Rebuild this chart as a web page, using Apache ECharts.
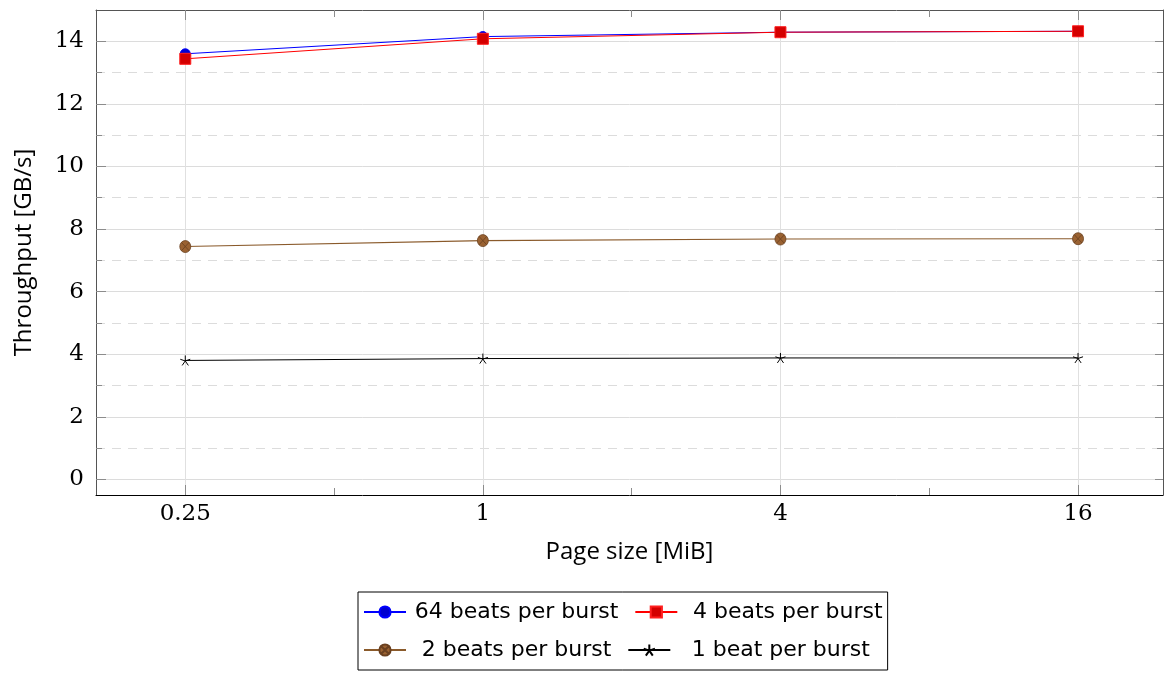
<!DOCTYPE html>
<html><head><meta charset="utf-8">
<script src="https://cdn.jsdelivr.net/npm/echarts@6/dist/echarts.min.js"></script>
<style>html,body{margin:0;padding:0;background:#fff}#c{width:1165px;height:673px}</style>
</head><body><div id="c"></div>
<script>
// ---- data ----
const pageSizes = [0.25, 1, 4, 16];
const xTickLabels = ['0.25', '1', '4', '16'];
const xMinorTicks = [0.5, 2, 8];
const yMajorTicks = [0, 2, 4, 6, 8, 10, 12, 14];
const yMinorTicks = [1, 3, 5, 7, 9, 11, 13];
const seriesNames = ['64 beats per burst', '4 beats per burst', '2 beats per burst', '1 beat per burst'];
const beats64 = [13.60, 14.15, 14.29, 14.32];
const beats4 = [13.44, 14.08, 14.29, 14.32];
const beats2 = [7.44, 7.63, 7.68, 7.69];
const beats1 = [3.80, 3.86, 3.88, 3.88];
const xAxisName = 'Page size [MiB]';
const yAxisName = 'Throughput [GB/s]';

// ---- layout/style ----
const X_MIN = 0.25 * Math.pow(4, -0.3);
const X_MAX = 16 * Math.pow(4, 0.2855);
const TICK_FONT = 'DejaVu Serif';
const TICK_COLOR = '#8c8c8c';

function xAxisBase(position) {
  return { type: 'log', logBase: 4, min: X_MIN, max: X_MAX, position: position, gridIndex: 0 };
}
function yAxisBase(position) {
  return { type: 'value', min: -0.5, max: 15, position: position, gridIndex: 0 };
}
function pair(xs, ys) { return xs.map((x, i) => [x, ys[i]]); }

const starPath = 'path://M0,-10L0,0M0,0L9.51,-3.09M0,0L5.88,8.09M0,0L-5.88,8.09M0,0L-9.51,-3.09';
const otimesPath = 'path://M10,0A10,10 0 1,1 -10,0A10,10 0 1,1 10,0ZM-7.07,-7.07L7.07,7.07M-7.07,7.07L7.07,-7.07';

const chart = echarts.init(document.getElementById('c'), null, { renderer: 'canvas' });
chart.setOption({
  backgroundColor: '#fff',
  animation: false,
  grid: { left: 96, right: 2, top: 10, bottom: 178, containLabel: false, outerBoundsMode: 'none' },
  xAxis: [
    Object.assign(xAxisBase('bottom'), {
      axisLine: { onZero: false, lineStyle: { color: '#000', width: 1 } },
      axisTick: { inside: true, length: 10, customValues: pageSizes, lineStyle: { color: TICK_COLOR } },
      axisLabel: {
        customValues: pageSizes, margin: 8, color: '#000', fontFamily: TICK_FONT, fontSize: 23,
        formatter: function (v) {
          let best = 0;
          pageSizes.forEach((p, i) => { if (Math.abs(p - v) < Math.abs(pageSizes[best] - v)) best = i; });
          return xTickLabels[best];
        }
      },
      splitLine: { show: true, lineStyle: { color: '#e0e0e0', width: 1 } },
      name: xAxisName, nameLocation: 'middle', nameGap: 45,
      nameTextStyle: { fontFamily: 'Open Sans', fontSize: 24, color: '#000' }
    }),
    Object.assign(xAxisBase('bottom'), {
      axisLine: { show: false, onZero: false },
      axisTick: { inside: true, length: 7, customValues: xMinorTicks, lineStyle: { color: TICK_COLOR } },
      axisLabel: { show: false }, splitLine: { show: false }
    }),
    Object.assign(xAxisBase('top'), {
      axisLine: { onZero: false, lineStyle: { color: '#555', width: 1 } },
      axisTick: { inside: true, length: 10, customValues: pageSizes, lineStyle: { color: TICK_COLOR } },
      axisLabel: { show: false }, splitLine: { show: false }
    }),
    Object.assign(xAxisBase('top'), {
      axisLine: { show: false, onZero: false },
      axisTick: { inside: true, length: 7, customValues: xMinorTicks, lineStyle: { color: TICK_COLOR } },
      axisLabel: { show: false }, splitLine: { show: false }
    })
  ],
  yAxis: [
    Object.assign(yAxisBase('left'), {
      axisLine: { show: true, onZero: false, lineStyle: { color: '#555', width: 1 } },
      axisTick: { show: true, inside: true, length: 10, customValues: yMajorTicks, lineStyle: { color: TICK_COLOR } },
      axisLabel: { customValues: yMajorTicks, margin: 12, color: '#000', fontFamily: TICK_FONT, fontSize: 23 },
      splitLine: { show: true, lineStyle: { color: '#dcdcdc', width: 1 } },
      name: yAxisName, nameLocation: 'middle', nameGap: 60,
      nameTextStyle: { fontFamily: 'Open Sans', fontSize: 24, color: '#000' }
    }),
    Object.assign(yAxisBase('left'), {
      axisLine: { show: false, onZero: false },
      axisTick: { show: true, inside: true, length: 6, customValues: yMinorTicks, lineStyle: { color: TICK_COLOR } },
      axisLabel: { show: false },
      splitLine: { show: true, lineStyle: { color: '#dcdcdc', width: 1, type: [9, 7] } }
    }),
    Object.assign(yAxisBase('right'), {
      axisLine: { show: true, onZero: false, lineStyle: { color: '#555', width: 1 } },
      axisTick: { show: true, inside: true, length: 8, customValues: yMajorTicks, lineStyle: { color: TICK_COLOR } },
      axisLabel: { show: false }, splitLine: { show: false }
    }),
    Object.assign(yAxisBase('right'), {
      axisLine: { show: false, onZero: false },
      axisTick: { show: true, inside: true, length: 6, customValues: yMinorTicks, lineStyle: { color: TICK_COLOR } },
      axisLabel: { show: false }, splitLine: { show: false }
    })
  ],
  legend: {
    data: seriesNames,
    left: 358, top: 592, width: 600,
    orient: 'horizontal',
    itemWidth: 42, itemHeight: 14, itemGap: 16,
    padding: [9, 5, 9, 5],
    borderColor: '#000', borderWidth: 1,
    formatter: '{a|{name}}',
    textStyle: {
      rich: { a: { width: 211, align: 'center', fontFamily: 'DejaVu Sans', fontSize: 22, color: '#000' } }
    }
  },
  series: [
    {
      name: seriesNames[0], type: 'line', data: pair(pageSizes, beats64),
      symbol: 'circle', symbolSize: 10,
      lineStyle: { color: '#0000ff', width: 1 },
      itemStyle: { color: '#0000d0', borderColor: '#0000ff', borderWidth: 1 }
    },
    {
      name: seriesNames[1], type: 'line', data: pair(pageSizes, beats4),
      symbol: 'rect', symbolSize: 11,
      lineStyle: { color: '#ff0000', width: 1 },
      itemStyle: { color: '#d40000', borderColor: '#ff2020', borderWidth: 1 }
    },
    {
      name: seriesNames[2], type: 'line', data: pair(pageSizes, beats2),
      symbol: otimesPath, symbolSize: [11, 12],
      lineStyle: { color: '#8a5a2b', width: 1.1 },
      itemStyle: { color: '#9a6232', borderColor: '#6a4020', borderWidth: 0.8 }
    },
    {
      name: seriesNames[3], type: 'line', data: pair(pageSizes, beats1),
      symbol: starPath, symbolSize: 10,
      lineStyle: { color: '#000', width: 1 },
      itemStyle: { color: '#000', borderColor: '#000', borderWidth: 1 }
    }
  ]
});
</script>
</body></html>
